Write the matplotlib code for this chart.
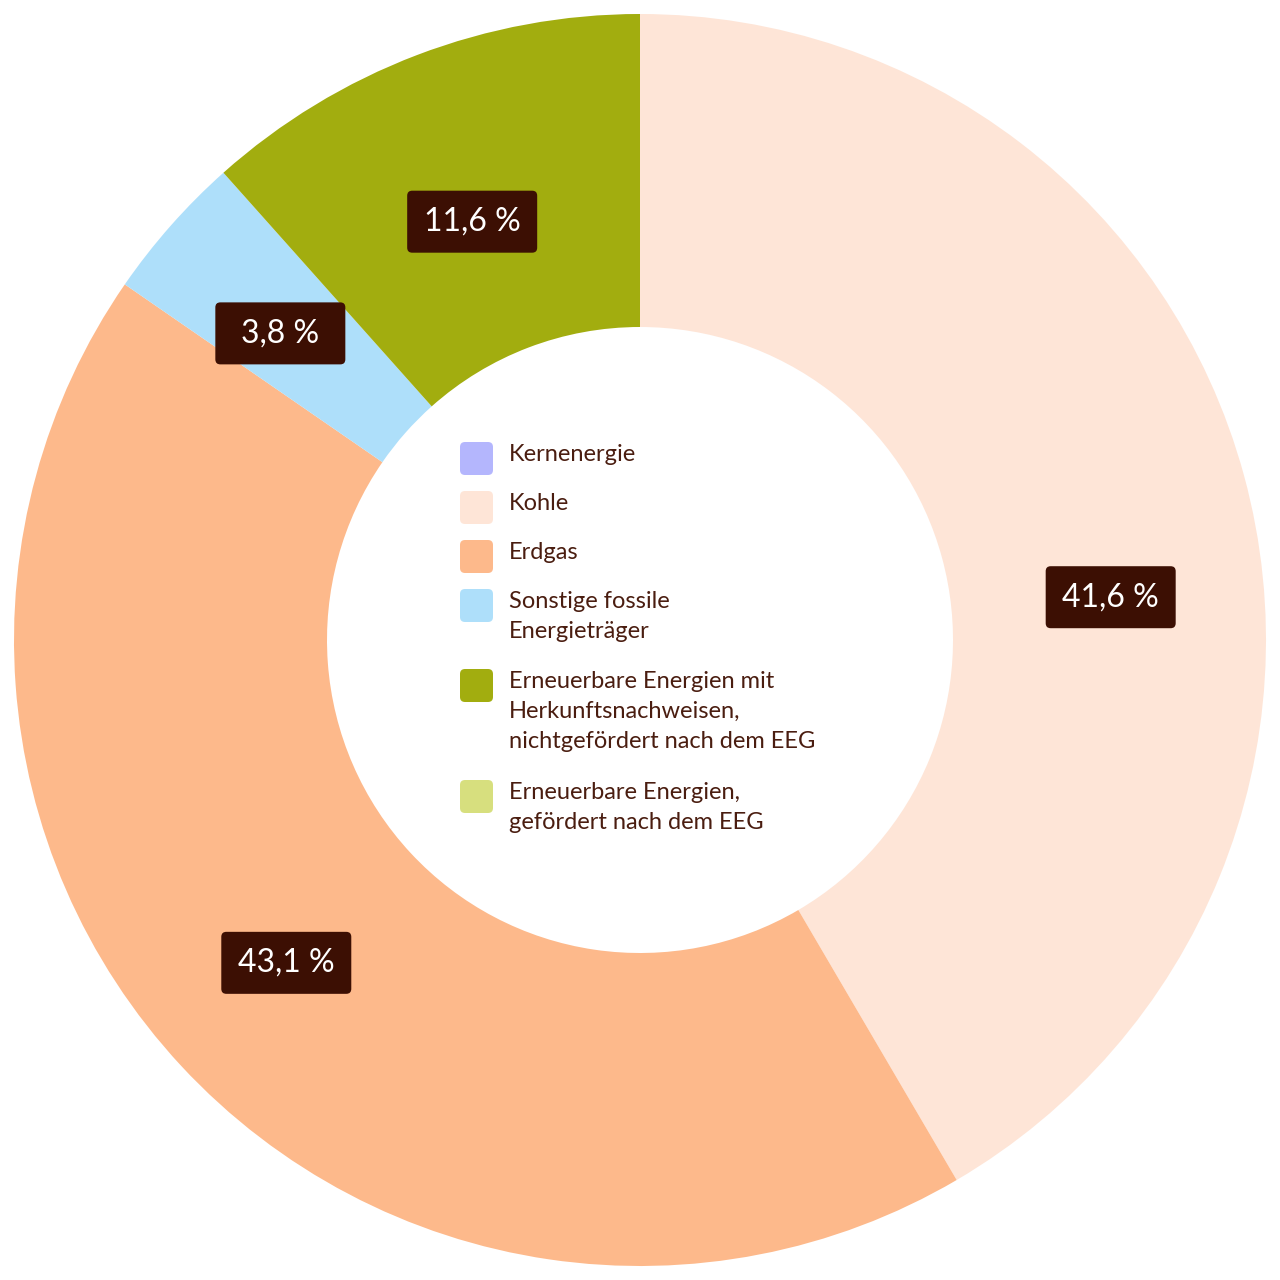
import numpy as np
import matplotlib
matplotlib.use('Agg')
import matplotlib.pyplot as plt
from matplotlib.patches import FancyBboxPatch

####################
# Data
categories = ['Kernenergie', 'Kohle', 'Erdgas',
              'Sonstige fossile\nEnergieträger',
              'Erneuerbare Energien mit\nHerkunftsnachweisen,\nnichtgefördert nach dem EEG',
              'Erneuerbare Energien,\ngefördert nach dem EEG']
shares = [0.0, 41.6, 43.1, 3.8, 11.6, 0.0]
labels = ['', '41,6 %', '43,1 %', '3,8 %', '11,6 %', '']
colors = ['#b4b6fd', '#fee5d7', '#fdb98b', '#aedffa', '#a2ad0f', '#d7df7e']

# label placement nudges (degrees clockwise, radius as fraction of outer)
label_shift = [0, 10, 0.5, -1, -1, 0]
label_rad = [0.75, 0.755, 0.765, 0.755, 0.72, 0.75]

plt.rcParams['font.family'] = ['Lato', 'DejaVu Sans']
text_col = '#4a1d10'
box_col = '#3c0f03'

####################
# Plot
fig = plt.figure(figsize=(12.8, 12.8), dpi=100)
ax = fig.add_axes([0, 0, 1, 1])
R = 626.0
lim = 640 / R

wedges, _ = ax.pie(shares, colors=colors, startangle=90, counterclock=False,
                   radius=1.0, wedgeprops=dict(width=0.5, linewidth=0))
ax.set_xlim(-lim, lim)
ax.set_ylim(-lim, lim)
ax.set_aspect('equal')
ax.axis('off')

def px(x, y):
    return (x - 640) / R, (640 - y) / R

# value labels
total = sum(shares)
start = 0.0
for v, lab, sh, r in zip(shares, labels, label_shift, label_rad):
    ang = start + v / total * 180.0 + sh
    start += v / total * 360.0
    if not lab:
        continue
    a = np.deg2rad(90 - ang)
    cx, cy = r * np.cos(a), r * np.sin(a)
    w, h = 130 / R, 62 / R
    ax.add_patch(FancyBboxPatch((cx - w / 2, cy - h / 2), w, h,
                                boxstyle='round,pad=0,rounding_size=0.008',
                                fc=box_col, ec='none', zorder=5))
    ax.text(cx, cy, lab, color='white', fontsize=23, ha='center', va='center',
            zorder=6)

# legend in the hole
line_h = 31
gap = 18
y = 455
for cat, col in zip(categories, colors):
    n = cat.count('\n') + 1
    sx, sy = px(460, y + 20)
    ax.add_patch(FancyBboxPatch((sx, sy), 33 / R, 33 / R,
                                boxstyle='round,pad=0,rounding_size=0.008',
                                fc=col, ec='none', zorder=5))
    tx, ty = px(509, y - 11)
    ax.text(tx, ty, cat, color=text_col, fontsize=17, ha='left', va='top',
            linespacing=1.52, zorder=6)
    y += n * line_h + gap

fig.savefig('out.png', dpi=100, facecolor='white')
